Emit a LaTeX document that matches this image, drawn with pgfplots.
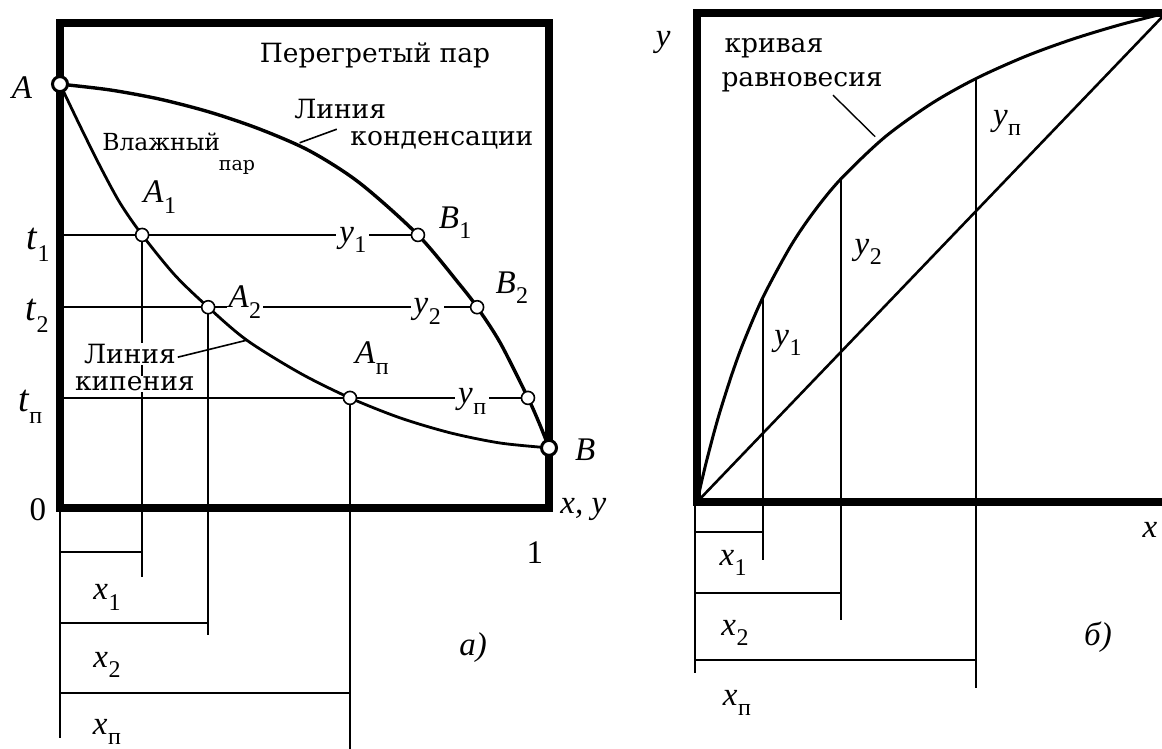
\documentclass[border=0pt]{standalone}
\usepackage{pgfplots}
\pgfplotsset{compat=1.18}
\usepackage{fontspec}
\setmainfont{DejaVu Serif}
\newfontfamily\tm{Liberation Serif}
% italic symbol with an upright subscript
\newcommand\lbl[2]{{\tm\itshape #1}\kern0.5pt\raisebox{-0.32em}{\tm\fontsize{24}{24}\selectfont #2}}
\newcommand\F{\fontsize{26.5}{28}\selectfont}
\newcommand\Fv{\fontsize{23.5}{25}\selectfont}
\newcommand\Fs{\fontsize{19}{21}\selectfont}
\newcommand\M{\fontsize{33}{35}\selectfont}
\newcommand\T{\fontsize{38}{40}\selectfont}

% t-x-y diagram: condensation (vapour) line and boiling (liquid) line
\pgfplotstableread{
x      t
0.000  0.874
0.102  0.862
0.204  0.843
0.307  0.816
0.409  0.781
0.511  0.736
0.613  0.670
0.732  0.563
0.818  0.460
0.853  0.414
0.900  0.341
0.957  0.227
0.982  0.170
1.000  0.124
}\dewline
\pgfplotstableread{
x      t
0.000  0.874
0.0409 0.788
0.0818 0.705
0.1227 0.629
0.168  0.563
0.235  0.480
0.303  0.414
0.382  0.346
0.491  0.278
0.593  0.227
0.695  0.186
0.798  0.155
0.900  0.134
1.000  0.124
}\bubbleline
% y-x equilibrium curve
\pgfplotstableread{
x      y
0.000  0.000
0.010  0.0426
0.020  0.0824
0.035  0.1376
0.050  0.1880
0.075  0.2629
0.100  0.3284
0.141  0.4194
0.200  0.5238
0.250  0.5946
0.307  0.6609
0.400  0.7458
0.500  0.8148
0.595  0.8660
0.700  0.9112
0.800  0.9462
0.900  0.9754
1.000  1.000
}\equil

\begin{document}
\begin{tikzpicture}
% ---------- а) ----------
\begin{axis}[at={(60pt,240pt)}, anchor=south west, scale only axis,
  width=489pt, height=485pt, xmin=0, xmax=1, ymin=0, ymax=1,
  hide axis, clip=false]
  % isotherms t1, t2, tn
  \addplot[line width=1.6pt] coordinates {(0,0.563) (0.732,0.563)};
  \addplot[line width=1.6pt] coordinates {(0,0.414) (0.853,0.414)};
  \addplot[line width=1.6pt] coordinates {(0,0.227) (0.957,0.227)};
  % liquid compositions
  \addplot[line width=1.6pt] coordinates {(0.168,0.563) (0.168,-0.142)};
  \addplot[line width=1.6pt] coordinates {(0.303,0.414) (0.303,-0.262)};
  \addplot[line width=1.6pt] coordinates {(0.593,0.227) (0.593,-0.52)};
  \addplot[line width=1.6pt] coordinates {(0,0) (0,-0.474)};
  \addplot[line width=1.6pt] coordinates {(0,-0.091) (0.168,-0.091)};
  \addplot[line width=1.6pt] coordinates {(0,-0.237) (0.303,-0.237)};
  \addplot[line width=1.6pt] coordinates {(0,-0.381) (0.593,-0.381)};
  % frame
  \draw[line width=8pt] (axis cs:0,0) rectangle (axis cs:1,1);
  % curves
  \addplot[smooth, line width=3.4pt] table[x=x, y=t] {\dewline};
  \addplot[smooth, line width=2.8pt] table[x=x, y=t] {\bubbleline};
  % leader lines
  \addplot[line width=1.6pt] coordinates {(0.566,0.781) (0.490,0.753)};
  \addplot[line width=1.6pt] coordinates {(0.241,0.311) (0.382,0.346)};
  % labels
  \node[font=\F] at (axis cs:0.644,0.934) {Перегретый пар};
  \node[font=\F] at (axis cs:0.573,0.823) {Линия};
  \node[font=\F] at (axis cs:0.781,0.759) {конденсации};
  \node[font=\Fv] at (axis cs:0.207,0.755) {Влажный};
  \node[font=\Fs] at (axis cs:0.362,0.703) {пар};
  \node[font=\F, fill=white, inner sep=1pt] at (axis cs:0.143,0.318) {Линия};
  \node[font=\F, fill=white, inner sep=1pt] at (axis cs:0.153,0.256) {кипения};
  \node[font=\M] at (axis cs:-0.078,0.866) {\tm\itshape A};
  \node[font=\M] at (axis cs:1.074,0.120) {\tm\itshape B};
  \node[font=\M] at (axis cs:0.204,0.641) {\lbl{A}{1}};
  \node[font=\M, fill=white, inner sep=2pt] at (axis cs:0.378,0.425) {\lbl{A}{2}};
  \node[font=\M] at (axis cs:0.638,0.309) {\lbl{A}{п}};
  \node[font=\M] at (axis cs:0.808,0.588) {\lbl{B}{1}};
  \node[font=\M] at (axis cs:0.924,0.454) {\lbl{B}{2}};
  \node[font=\M, fill=white, inner sep=3pt] at (axis cs:0.599,0.553) {\lbl{y}{1}};
  \node[font=\M, fill=white, inner sep=3pt] at (axis cs:0.751,0.405) {\lbl{y}{2}};
  \node[font=\M, fill=white, inner sep=3pt] at (axis cs:0.843,0.220) {\lbl{y}{п}};
  \node[font=\T] at (axis cs:-0.045,0.542) {\lbl{t}{1}};
  \node[font=\T] at (axis cs:-0.047,0.396) {\lbl{t}{2}};
  \node[font=\T] at (axis cs:-0.061,0.208) {\lbl{t}{п}};
  \node[font=\M] at (axis cs:-0.045,-0.004) {\tm 0};
  \node[font=\M, anchor=west] at (axis cs:1.016,-0.004) {\tm\itshape x, y};
  \node[font=\M] at (axis cs:0.971,-0.093) {\tm 1};
  \node[font=\M] at (axis cs:0.096,-0.184) {\lbl{x}{1}};
  \node[font=\M] at (axis cs:0.096,-0.324) {\lbl{x}{2}};
  \node[font=\M] at (axis cs:0.096,-0.462) {\lbl{x}{п}};
  \node[font=\M] at (axis cs:0.845,-0.287) {\tm\itshape а)};
  % equilibrium points
  \addplot[only marks, mark=*, mark size=6.5pt,
    mark options={fill=white, draw=black, line width=1.6pt}]
    coordinates {(0.168,0.563) (0.732,0.563) (0.303,0.414) (0.853,0.414)
                 (0.593,0.227) (0.957,0.227)};
  \addplot[only marks, mark=*, mark size=7.5pt,
    mark options={fill=white, draw=black, line width=3pt}]
    coordinates {(0,0.874) (1,0.124)};
\end{axis}
% ---------- б) ----------
\begin{axis}[at={(697pt,246pt)}, anchor=south west, scale only axis,
  width=469pt, height=489pt, xmin=0, xmax=1, ymin=0, ymax=1,
  hide axis, clip=false]
  \addplot[line width=1.6pt] coordinates {(0.141,0.419) (0.141,-0.119)};
  \addplot[line width=1.6pt] coordinates {(0.307,0.661) (0.307,-0.241)};
  \addplot[line width=1.6pt] coordinates {(0.595,0.866) (0.595,-0.380)};
  \addplot[line width=1.6pt] coordinates {(-0.004,0) (-0.004,-0.350)};
  \addplot[line width=1.6pt] coordinates {(-0.004,-0.061) (0.141,-0.061)};
  \addplot[line width=1.6pt] coordinates {(-0.004,-0.186) (0.307,-0.186)};
  \addplot[line width=1.6pt] coordinates {(-0.004,-0.323) (0.595,-0.323)};
  \draw[line width=8pt] (axis cs:0,0) rectangle (axis cs:1,1);
  % diagonal y = x
  \addplot[line width=2.6pt] coordinates {(0,0) (1,1)};
  \addplot[smooth, line width=3pt] table[x=x, y=y] {\equil};
  \addplot[line width=1.4pt] coordinates {(0.290,0.832) (0.380,0.747)};
  \node[font=\M] at (axis cs:-0.072,0.939) {\tm\itshape y};
  \node[font=\F] at (axis cs:0.164,0.928) {кривая};
  \node[font=\F] at (axis cs:0.224,0.859) {равновесия};
  \node[font=\M] at (axis cs:0.194,0.325) {\lbl{y}{1}};
  \node[font=\M] at (axis cs:0.365,0.511) {\lbl{y}{2}};
  \node[font=\M] at (axis cs:0.661,0.775) {\lbl{y}{п}};
  \node[font=\M] at (axis cs:0.077,-0.125) {\lbl{x}{1}};
  \node[font=\M] at (axis cs:0.081,-0.268) {\lbl{x}{2}};
  \node[font=\M] at (axis cs:0.085,-0.411) {\lbl{x}{п}};
  \node[font=\M] at (axis cs:0.855,-0.276) {\tm\itshape б)};
  \node[font=\M] at (axis cs:0.966,-0.057) {\tm\itshape x};
\end{axis}
\pgfresetboundingbox
\path[use as bounding box] (0,0) rectangle (1162pt,748pt);
\end{tikzpicture}
\end{document}
